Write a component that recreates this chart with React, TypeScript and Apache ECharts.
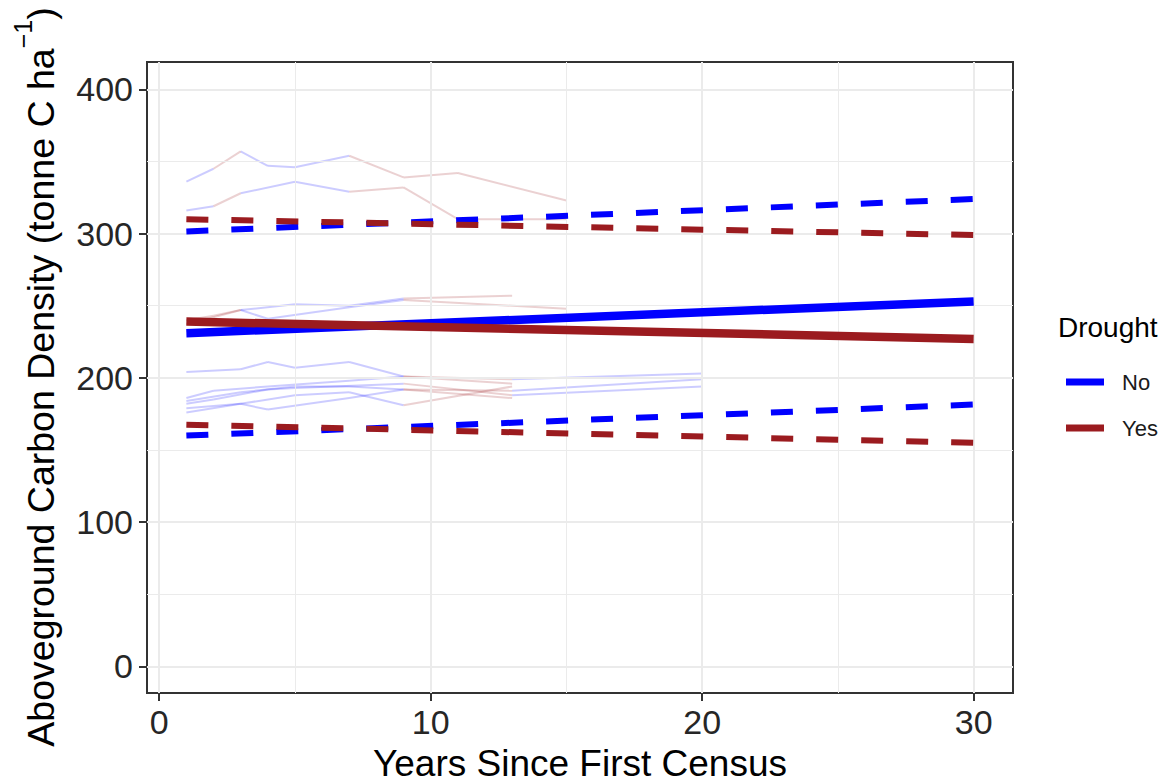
import React, { useEffect, useRef } from "react";
import * as echarts from "echarts";

// ---------- data ----------
const years = [1, 30];
const meanNo = [231, 253];
const meanYes = [239, 227];
const upperNo = [301.5, 324];
const upperYes = [310, 299];
const lowerNo = [160, 181.5];
const lowerYes = [167.5, 155];

// individual plot trajectories (x = census year, y = carbon density), drought status per segment
const trajX = [
  [1, 2, 3, 4, 5, 7, 9, 11, 15],
  [1, 2, 3, 5, 7, 9, 11, 15],
  [1, 2, 3, 5, 7, 9, 13],
  [1, 3, 4, 7, 9, 15],
  [1, 3, 4, 5, 7, 9, 13],
  [1, 2, 4, 7, 9, 13, 20],
  [1, 3, 5, 7, 9, 13, 20],
  [1, 2, 4, 5, 9, 13, 20],
  [1, 3, 5, 7, 9, 13],
  [1, 3, 4, 7, 9, 13],
];
const trajY = [
  [336, 345, 357, 347, 346, 354, 339, 342, 323],
  [316, 319, 328, 336, 329, 332, 310, 310],
  [240, 243, 247, 251, 250, 255, 257],
  [237, 247, 241, 249, 254, 248],
  [204, 206, 211, 207, 211, 201, 196],
  [186, 191, 194, 198, 201, 199, 203],
  [184, 190, 194, 194, 192, 191, 199],
  [182, 185, 192, 193, 196, 188, 194],
  [179, 182, 188, 190, 181, 194],
  [176, 182, 178, 186, 192, 186],
];
const trajDrought = [
  ["No", "Yes", "No", "No", "No", "Yes", "Yes", "Yes"],
  ["No", "Yes", "No", "No", "Yes", "Yes", "Yes"],
  ["Yes", "Yes", "No", "No", "No", "Yes"],
  ["Yes", "No", "No", "No", "Yes"],
  ["No", "No", "No", "No", "No", "Yes"],
  ["No", "No", "No", "No", "Yes", "No"],
  ["No", "No", "No", "No", "Yes", "No"],
  ["No", "No", "No", "No", "Yes", "No"],
  ["No", "No", "No", "No", "Yes"],
  ["No", "No", "No", "No", "Yes"],
];

const xTicks = [0, 10, 20, 30];
const xMinor = [5, 15, 25];
const yTicks = [0, 100, 200, 300, 400];
const yMinor = [50, 150, 250, 350];

// ---------- style ----------
const BLUE = "#0000FF";
const RED = "#9B1B1F";
const FONT = "'Liberation Sans', Arial, Helvetica, sans-serif";
const GRID = "#EBEBEB";
const TICKTXT = "#262626";

export default function App() {
  const ref = useRef<HTMLDivElement>(null);

  useEffect(() => {
    if (!ref.current) return;
    const chart = echarts.init(ref.current, null, { renderer: "svg" });

    const colorOf = (d: string) => (d === "No" ? BLUE : RED);

    const trajSeries: any[] = [];
    trajX.forEach((xs, t) => {
      for (let i = 0; i < xs.length - 1; i++) {
        trajSeries.push({
          type: "line",
          name: "traj" + t + "_" + i,
          data: [
            [xs[i], trajY[t][i]],
            [xs[i + 1], trajY[t][i + 1]],
          ],
          symbol: "none",
          silent: true,
          z: 3,
          lineStyle: { color: colorOf(trajDrought[t][i]), width: 2, opacity: 0.2 },
        });
      }
    });

    const pair = (ys: number[]) => years.map((x, i) => [x, ys[i]]);
    const dashed = (name: string, ys: number[], color: string) => ({
      type: "line",
      name,
      data: pair(ys),
      symbol: "none",
      silent: true,
      z: 5,
      itemStyle: { color },
      lineStyle: { color, width: 6, type: [22, 23], cap: "butt" },
    });
    const solid = (name: string, ys: number[], color: string) => ({
      type: "line",
      name,
      data: pair(ys),
      symbol: "none",
      silent: true,
      z: 6,
      itemStyle: { color },
      lineStyle: { color, width: 8.5, cap: "butt" },
    });

    const gl = (width: number) => ({ width, color: GRID, type: "solid" as const });
    const gridLines = [
      ...xTicks.map((v) => ({ xAxis: v, lineStyle: gl(2) })),
      ...xMinor.map((v) => ({ xAxis: v, lineStyle: gl(1) })),
      ...yTicks.map((v) => ({ yAxis: v, lineStyle: gl(2) })),
      ...yMinor.map((v) => ({ yAxis: v, lineStyle: gl(1) })),
    ];

    const xMin = years[0] - 0.05 * (years[1] - years[0]);
    const xMax = years[1] + 0.05 * (years[1] - years[0]);

    chart.setOption({
      animation: false,
      backgroundColor: "#FFFFFF",
      grid: {
        left: 147,
        right: 155,
        top: 62,
        bottom: 90,
        show: true,
        borderColor: "#333333",
        borderWidth: 2,
        backgroundColor: "transparent",
      },
      xAxis: {
        type: "value",
        min: xMin,
        max: xMax,
        axisLine: { show: false, onZero: false },
        splitLine: { show: false },
        axisTick: {
          show: true,
          customValues: xTicks,
          length: 8,
          lineStyle: { color: "#333333", width: 2 },
        },
        axisLabel: {
          customValues: xTicks,
          fontSize: 34,
          color: TICKTXT,
          fontFamily: FONT,
          margin: 12,
        },
      },
      yAxis: {
        type: "value",
        min: -18.5,
        max: 419,
        axisLine: { show: false, onZero: false },
        splitLine: { show: false },
        axisTick: {
          show: true,
          customValues: yTicks,
          length: 8,
          lineStyle: { color: "#333333", width: 2 },
        },
        axisLabel: {
          customValues: yTicks,
          fontSize: 34,
          color: TICKTXT,
          fontFamily: FONT,
          margin: 14,
        },
      },
      legend: {
        orient: "vertical",
        left: 1061,
        top: 366,
        itemWidth: 38,
        itemHeight: 7,
        itemGap: 24,
        icon: "rect",
        selectedMode: false,
        data: [
          { name: "No", itemStyle: { color: BLUE } },
          { name: "Yes", itemStyle: { color: RED } },
        ],
        textStyle: {
          fontSize: 22,
          lineHeight: 22,
          color: "#1A1A1A",
          fontFamily: FONT,
          padding: [0, 0, 0, 13],
        },
      },
      graphic: [
        {
          type: "text",
          x: 580,
          y: 763,
          style: {
            text: "Years Since First Census",
            fontSize: 37,
            fontFamily: FONT,
            fill: "#000000",
            align: "center",
            verticalAlign: "middle",
          },
        },
        {
          type: "text",
          x: 35,
          y: 377,
          rotation: Math.PI / 2,
          style: {
            text: "{a|Aboveground Carbon Density (tonne C ha}{s|−1}{a|)}",
            align: "center",
            verticalAlign: "middle",
            fill: "#000000",
            fontFamily: FONT,
            rich: {
              a: {
                fontSize: 37.5,
                fontFamily: FONT,
                fill: "#000000",
                lineHeight: 50,
                verticalAlign: "bottom",
              },
              s: {
                fontSize: 25,
                fontFamily: FONT,
                fill: "#000000",
                lineHeight: 25,
                verticalAlign: "top",
              },
            },
          },
        },
        {
          type: "text",
          x: 1058,
          y: 327,
          style: {
            text: "Drought",
            fontSize: 28,
            fontFamily: FONT,
            fill: "#000000",
            align: "left",
            verticalAlign: "middle",
          },
        },
      ],
      series: [
        {
          type: "line",
          name: "gridlines",
          data: [],
          silent: true,
          z: 1,
          markLine: {
            silent: true,
            symbol: ["none", "none"],
            label: { show: false },
            animation: false,
            lineStyle: { type: "solid" },
            data: gridLines,
          },
        },
        ...trajSeries,
        dashed("No", upperNo, BLUE),
        dashed("Yes", upperYes, RED),
        dashed("No", lowerNo, BLUE),
        dashed("Yes", lowerYes, RED),
        solid("No", meanNo, BLUE),
        solid("Yes", meanYes, RED),
      ],
    });

    return () => chart.dispose();
  }, []);

  return (
    <div
      ref={ref}
      style={{ position: "fixed", left: 0, top: 0, width: 1168, height: 783, background: "#fff" }}
    />
  );
}
